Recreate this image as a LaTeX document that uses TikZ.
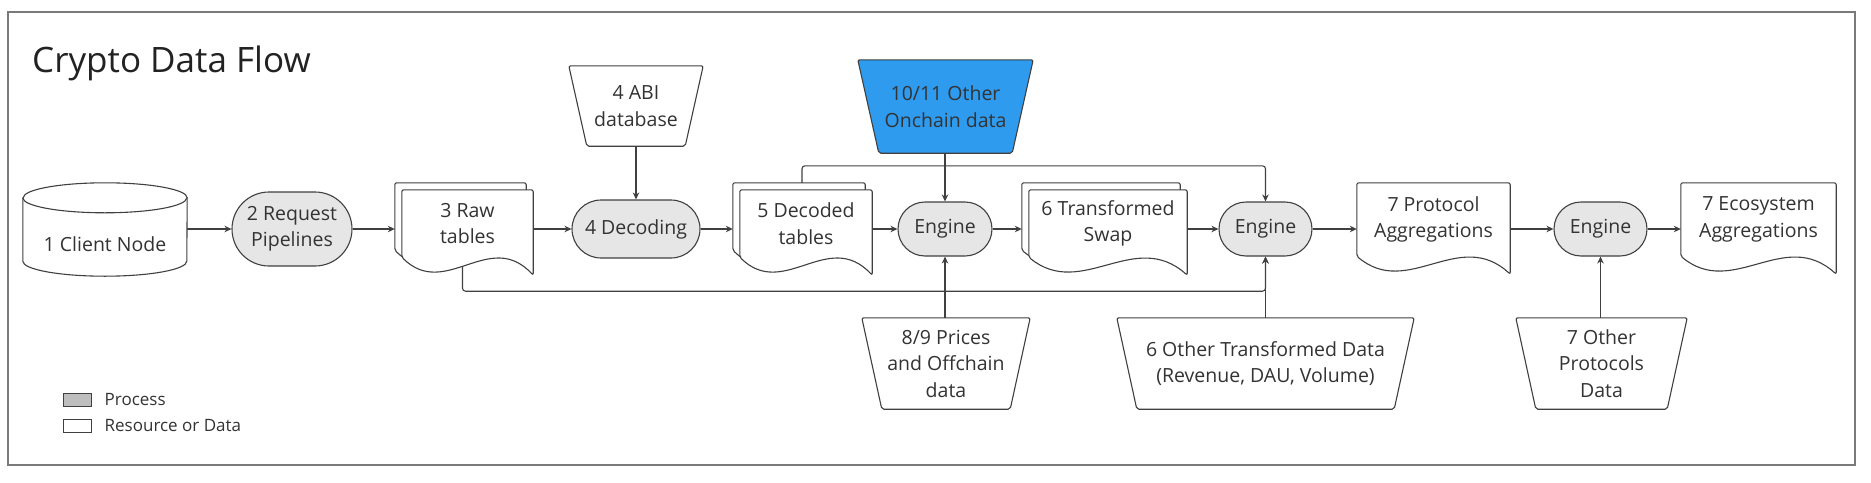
\documentclass[tikz,border=0pt]{standalone}
\usepackage{fontspec}
\setmainfont{Open Sans}
\usetikzlibrary{positioning,calc,shapes.misc,arrows.meta,backgrounds}

\definecolor{linecol}{HTML}{404040}
\definecolor{textcol}{HTML}{333333}
\definecolor{titlecol}{HTML}{222222}
\definecolor{framecol}{HTML}{7A7A7A}
\definecolor{procfill}{HTML}{E6E6E6}
\definecolor{legendgray}{HTML}{BEBEBE}
\definecolor{onchainblue}{HTML}{2E9BEF}

\newcommand{\bodyfont}{\fontsize{19.5}{26.5}\selectfont}

% outline of a data sheet with a wavy lower edge
\newcommand{\docframe}[2][(0pt,0pt)]{%
  \draw[shapeline, fill=white, rounded corners=2pt]
    ($(#2.south west)+#1$) -- ($(#2.north west)+#1$) -- ($(#2.north east)+#1$)
    -- ($(#2.south east)+#1+(0,-18pt)$)
    .. controls ($(#2.south west)!0.667!(#2.south east)+#1+(0,29pt)$)
    and ($(#2.south west)!0.333!(#2.south east)+#1+(0,-43pt)$) .. ($(#2.south west)+#1$) -- cycle;}

% outline of an input (trapezoid, wide side up)
\newcommand{\trapframe}[3][white]{%
  \draw[shapeline, fill=#1, rounded corners=2pt]
    (#2.north west) -- (#2.north east) -- ([xshift=-#3]#2.south east) -- ([xshift=#3]#2.south west) -- cycle;}

% outline of the database drum
\newcommand{\cylframe}[1]{%
  \draw[shapeline, fill=white] ([yshift=15pt]#1.north west) -- ([yshift=15pt]#1.south west)
    arc[start angle=180, end angle=360, x radius=82pt, y radius=15pt]
    -- ([yshift=15pt]#1.north east)
    arc[start angle=0, end angle=180, x radius=82pt, y radius=15pt] -- cycle;
  \draw[shapeline] ([yshift=15pt]#1.north west)
    arc[start angle=180, end angle=360, x radius=82pt, y radius=15pt];}

\begin{document}
\begin{tikzpicture}[x=1pt, y=-1pt,
    >={Stealth[length=7pt,width=6.5pt]},
    shapeline/.style={draw=linecol, line width=1.1pt},
    procnode/.style={rounded rectangle, draw=linecol, line width=1.1pt, fill=procfill, text=textcol, font=\bodyfont, align=center, inner sep=0pt},
    datanode/.style={rectangle, inner sep=0pt, text=textcol, font=\bodyfont, align=center},
    flow/.style={->, draw=linecol, line width=1.1pt},
    legendbox/.style={rectangle, draw=linecol, line width=1pt, minimum width=28pt, minimum height=13pt, inner sep=0pt},
    legendtext/.style={inner sep=0pt, font=\fontsize{17}{20}\selectfont, text=textcol},
    ]
    \useasboundingbox (0,0) rectangle (1871,482);

    %Nodes
    \node[anchor=base west, inner sep=0pt, font=\fontsize{35}{42}\selectfont, text=titlecol] (title) at (32,72) {Crypto Data Flow};

    \node[datanode, minimum width=164pt, minimum height=63pt] (client)    at (105,244.5)    {1 Client Node};
    \node[procnode, minimum width=120pt, minimum height=74pt] (req)       at (292,229)      {2 Request\\Pipelines};
    \node[datanode, minimum width=131pt, minimum height=67pt] (raw)       at (467.5,223.5)  {3 Raw\\tables};
    \node[procnode, minimum width=128pt, minimum height=58pt] (decoding)  at (636,229)      {4 Decoding};
    \node[datanode, minimum width=134pt, minimum height=80pt] (abi)       at (636,106)      {4 ABI\\database};
    \node[datanode, minimum width=132pt, minimum height=67pt] (decoded)   at (806,223.5)    {5 Decoded\\tables};
    \node[procnode, minimum width=94pt,  minimum height=54pt] (engA)      at (945,229)      {Engine};
    \node[datanode, minimum width=175pt, minimum height=93pt] (onchain)   at (945.5,106.5)  {10/11 Other\\Onchain data};
    \node[datanode, minimum width=168pt, minimum height=91pt] (prices)    at (946,363.5)    {8/9 Prices\\and Offchain\\data};
    \node[datanode, minimum width=158pt, minimum height=67pt] (swap)      at (1108,223.5)   {6 Transformed\\Swap};
    \node[procnode, minimum width=93pt,  minimum height=54pt] (engB)      at (1265.5,229)   {Engine};
    \node[datanode, minimum width=297pt, minimum height=91pt] (othertx)   at (1265.5,363.5) {6 Other Transformed Data\\(Revenue, DAU, Volume)};
    \node[datanode, minimum width=153pt, minimum height=73pt] (protocol)  at (1433.5,219.5) {7 Protocol\\Aggregations};
    \node[procnode, minimum width=93pt,  minimum height=54pt] (engC)      at (1600.5,229)   {Engine};
    \node[datanode, minimum width=171pt, minimum height=91pt] (otherprot) at (1601.5,363.5) {7 Other\\Protocols\\Data};
    \node[datanode, minimum width=155pt, minimum height=73pt] (eco)       at (1758.5,219.5) {7 Ecosystem\\Aggregations};

    \coordinate (rawback)     at ([xshift=-7pt]raw.west);
    \coordinate (decodedback) at ([xshift=-7pt]decoded.west);
    \coordinate (swapback)    at ([xshift=-7pt]swap.west);

    %Legend
    \node[legendbox, fill=legendgray] (lgproc) at (77,399.5) {};
    \node[legendbox, fill=white]      (lgres)  at (77,426)   {};
    \node[legendtext, right=13pt of lgproc] (lgproctext) {Process};
    \node[legendtext, right=13pt of lgres]  (lgrestext)  {Resource or Data};

    %Shapes
    \begin{scope}[on background layer]
      \draw[draw=framecol, line width=1.4pt] (8,12) rectangle (1855,465);
      \cylframe{client}
      \docframe[(-7pt,7pt)]{raw}
      \docframe{raw}
      \docframe[(-7pt,7pt)]{decoded}
      \docframe{decoded}
      \docframe[(-7pt,7pt)]{swap}
      \docframe{swap}
      \docframe{protocol}
      \docframe{eco}
      \trapframe{abi}{18pt}
      \trapframe[onchainblue]{onchain}{21pt}
      \trapframe{prices}{20pt}
      \trapframe{othertx}{20pt}
      \trapframe{otherprot}{20pt}
    \end{scope}

    %Lines
    \draw[flow] (client.east |- req.west) -- (req.west);
    \draw[flow] (req.east) -- (req.east -| rawback);
    \draw[flow] (raw.east |- decoding.west) -- (decoding.west);
    \draw[flow] (abi.south) -- (decoding.north);
    \draw[flow] (decoding.east) -- (decoding.east -| decodedback);
    \draw[flow] (decoded.east |- engA.west) -- (engA.west);
    \draw[flow] (engA.north |- onchain.south) -- (engA.north);
    \draw[flow] (engA.south |- prices.north) -- (engA.south);
    \draw[flow] (engA.east) -- (engA.east -| swapback);
    \draw[flow] (swap.east |- engB.west) -- (engB.west);
    \draw[flow, rounded corners=3pt] ([xshift=-4pt,yshift=7pt]decoded.north) -- ++(0,17pt) -| (engB.north);
    \draw[flow, rounded corners=3pt] ([xshift=-5pt,yshift=-9pt]raw.south) -- ++(0,-25pt) -| (engB.south);
    \draw[flow] (othertx.north) -- (engB.south);
    \draw[flow] (engB.east) -- (engB.east -| protocol.west);
    \draw[flow] (protocol.east |- engC.west) -- (engC.west);
    \draw[flow] (engC.south |- otherprot.north) -- (engC.south);
    \draw[flow] (engC.east) -- (engC.east -| eco.west);
\end{tikzpicture}
\end{document}
